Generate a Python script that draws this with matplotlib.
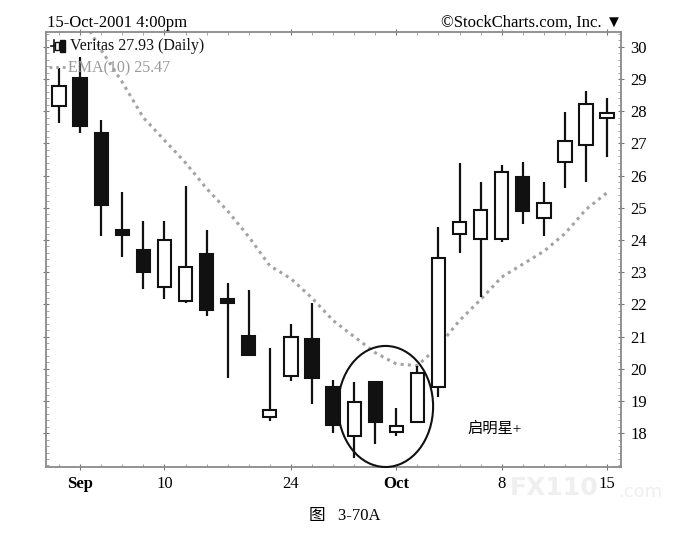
import numpy as np
import matplotlib.pyplot as plt
from matplotlib.patches import Rectangle, Ellipse
from matplotlib.ticker import MultipleLocator

# Veritas daily OHLC, 31-Aug-2001 .. 15-Oct-2001
fechas = ['Aug31', 'Sep4', 'Sep5', 'Sep6', 'Sep7', 'Sep10', 'Sep17', 'Sep18', 'Sep19',
          'Sep20', 'Sep21', 'Sep24', 'Sep25', 'Sep26', 'Sep27', 'Sep28', 'Oct1', 'Oct2',
          'Oct3', 'Oct4', 'Oct5', 'Oct8', 'Oct9', 'Oct10', 'Oct11', 'Oct12', 'Oct15']
apertura = [28.16, 29.04, 27.32, 24.30, 23.68, 22.53, 22.12, 23.58, 22.16, 21.01, 18.50,
            19.78, 20.93, 19.44, 17.92, 19.58, 18.04, 18.34, 19.42, 24.20, 24.03, 24.02,
            25.96, 24.67, 26.41, 26.95, 27.78]
maximo = [29.34, 29.69, 27.72, 25.50, 24.60, 24.60, 25.68, 24.31, 22.68, 22.44, 20.65,
          21.38, 22.03, 19.65, 19.58, 19.62, 18.79, 20.09, 24.41, 26.39, 25.79, 26.33,
          26.43, 25.79, 27.98, 28.63, 28.40]
minimo = [27.63, 27.32, 24.12, 23.48, 22.47, 22.17, 22.05, 21.64, 19.70, 20.43, 18.39,
          19.63, 18.92, 18.02, 17.22, 17.68, 17.91, 18.34, 19.13, 23.60, 22.22, 23.94,
          24.49, 24.13, 25.63, 25.81, 26.58]
cierre = [28.79, 27.54, 25.08, 24.16, 23.00, 24.00, 23.16, 21.82, 22.05, 20.43, 18.72,
          20.99, 19.70, 18.25, 18.96, 18.34, 18.23, 19.86, 23.43, 24.57, 24.93, 26.12,
          24.91, 25.14, 27.08, 28.21, 27.93]
ema10 = [31.4, 31.0, 29.9, 28.9, 27.8, 27.1, 26.4, 25.6, 24.9, 24.1, 23.2, 22.8, 22.2,
         21.5, 21.0, 20.5, 20.15, 20.1, 20.7, 21.5, 22.15, 22.85, 23.25, 23.65, 24.2,
         24.95, 25.47]

etiq_pos = [1, 5, 11, 16, 21, 26]
etiq_txt = ['Sep', '10', '24', 'Oct', '8', '15']
etiq_negrita = ['Sep', 'Oct']
y_ticks = list(range(18, 31))

serif = ['Liberation Serif', 'Noto Sans CJK SC', 'DejaVu Sans']
plt.rcParams['font.family'] = serif

fig = plt.figure(figsize=(6.85, 5.36), dpi=100)

# marca de agua (detras de todo)
fig.text(0.744, 0.068, 'FX110', fontsize=18, fontweight='bold', color='#efefef',
         family='DejaVu Sans', ha='left', va='bottom', zorder=0)
fig.text(0.903, 0.066, '.com', fontsize=13, color='#efefef', family='DejaVu Sans',
         ha='left', va='bottom', zorder=0)

ax = fig.add_axes([0.0672, 0.1287, 0.8394, 0.8116])
ax.patch.set_alpha(0)

x = np.arange(len(fechas))
ancho = 0.63
for i in x:
    ax.vlines(i, minimo[i], maximo[i], color='#111111', lw=1.6, zorder=2)
    sube = cierre[i] >= apertura[i]
    base = min(apertura[i], cierre[i])
    alto = max(abs(cierre[i] - apertura[i]), 0.06)
    ax.add_patch(Rectangle((i - ancho / 2, base), ancho, alto,
                           facecolor='white' if sube else '#111111',
                           edgecolor='#111111', lw=1.5, zorder=3))

ax.plot(x, ema10, color='#a3a3a3', lw=2.2, ls=(0, (1, 1.4)), zorder=1)

# circulo del patron
ax.add_patch(Ellipse((15.49, 18.83), 4.51, 3.76, fill=False, edgecolor='#111111',
                     lw=1.5, zorder=4, clip_on=False))
ax.text(20.64, 18.13, '启明星+', fontsize=11, ha='center', va='center', family=serif)

ax.set_xlim(-0.617, 26.66)
ax.set_ylim(16.95, 30.46)

ax.set_xticks(etiq_pos)
ax.set_xticklabels(etiq_txt, fontsize=12)
for t in ax.get_xticklabels():
    if t.get_text() in etiq_negrita:
        t.set_fontweight('bold')
ax.set_xticks(x, minor=True)
ax.tick_params(axis='x', which='major', direction='inout', length=5, color='#777777',
               top=True, pad=4)
ax.tick_params(axis='x', which='minor', direction='in', length=2, color='#999999', top=True)

ax.yaxis.tick_right()
ax.set_yticks(y_ticks)
ax.set_yticklabels([str(v) for v in y_ticks], fontsize=12)
ax.yaxis.set_minor_locator(MultipleLocator(0.2))
ax.tick_params(axis='y', which='major', direction='inout', length=5, color='#777777',
               left=True, right=True, pad=4)
ax.tick_params(axis='y', which='minor', direction='in', length=2, color='#999999',
               left=True, right=True)
for s in ax.spines.values():
    s.set_color('#8a8a8a')
    s.set_linewidth(1.3)

# leyenda
ax.plot([0.008, 0.014], [0.968, 0.968], transform=ax.transAxes, color='#111111', lw=1.2)
ax.plot([0.014, 0.014], [0.955, 0.982], transform=ax.transAxes, color='#111111', lw=1.2)
ax.add_patch(Rectangle((0.016, 0.958), 0.006, 0.02, transform=ax.transAxes,
                       facecolor='white', edgecolor='#111111', lw=1))
ax.add_patch(Rectangle((0.025, 0.955), 0.008, 0.026, transform=ax.transAxes,
                       facecolor='#111111', edgecolor='#111111', lw=1))
ax.text(0.041, 0.968, 'Veritas 27.93 (Daily)', transform=ax.transAxes, fontsize=11.5,
        va='center', ha='left', color='#111111')
ax.plot([0.006, 0.036], [0.92, 0.92], transform=ax.transAxes, color='#a3a3a3', lw=2,
        ls=(0, (1, 1.4)))
ax.text(0.038, 0.917, 'EMA(10) 25.47', transform=ax.transAxes, fontsize=11.5,
        va='center', ha='left', color='#9a9a9a')

fig.text(0.0686, 0.958, '15-Oct-2001 4:00pm', fontsize=12, ha='left', va='center')
fig.text(0.908, 0.958, '©StockCharts.com, Inc. ▼', fontsize=12, ha='right', va='center')

fig.text(0.503, 0.037, '图   3-70A', fontsize=12, ha='center', va='center')

fig.savefig('out.png', dpi=100)
